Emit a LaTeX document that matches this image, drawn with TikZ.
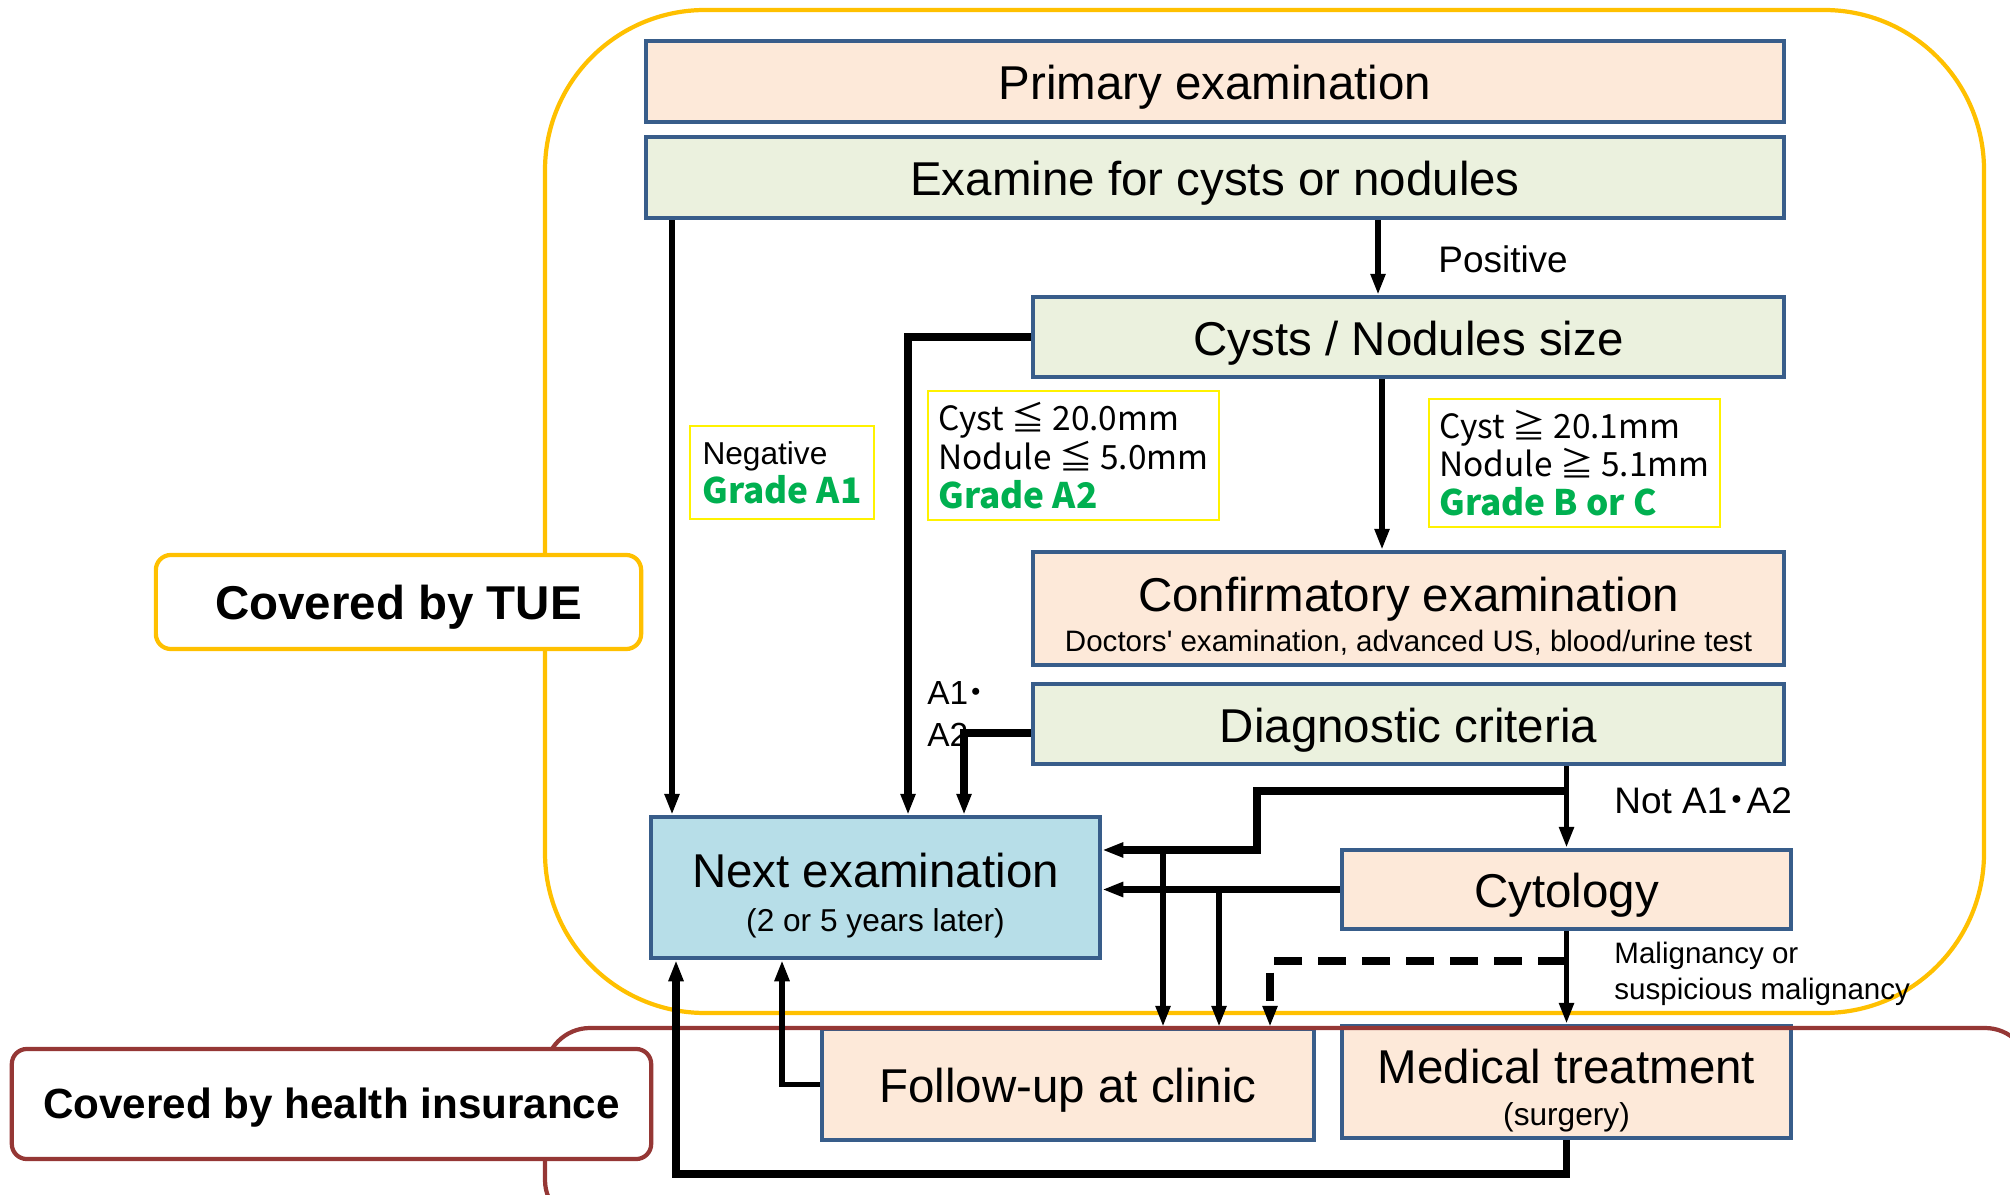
\documentclass[tikz,border=0pt]{standalone}
\usepackage{fontspec}
\setmainfont{Liberation Sans}
\newfontfamily\jpfont{Noto Sans CJK JP}
\usetikzlibrary{arrows.meta}

\definecolor{peach}{RGB}{253,233,217}
\definecolor{sage}{RGB}{235,241,222}
\definecolor{skyblue}{RGB}{183,222,232}
\definecolor{boxblue}{RGB}{56,93,138}
\definecolor{tueyellow}{RGB}{255,192,0}
\definecolor{insred}{RGB}{149,55,53}
\definecolor{gradegreen}{RGB}{0,176,80}

\newcommand{\ttlsize}{\fontsize{13.5}{16}\selectfont}
\newcommand{\subsize}{\fontsize{9}{11}\selectfont}
\newcommand{\notesize}{\fontsize{8.4}{10.2}\selectfont}
\newcommand{\lblsize}{\fontsize{10.5}{12.6}\selectfont}
\newcommand{\condsize}{\fontsize{9.5}{11}\selectfont}
\newcommand{\grade}[1]{{\fontsize{10}{11}\selectfont\color{gradegreen}\bfseries #1}}
\newcommand{\jpdot}{\kern-2.5pt{\jpfont ・}\kern-2.5pt}

\tikzset{
  stage/.style={draw=boxblue, line width=1.2pt, inner sep=0pt, align=center, font=\ttlsize,
    execute at begin node={\rule{0pt}{13.3pt}}},
  peachbox/.style={stage, fill=peach},
  sagebox/.style={stage, fill=sage},
  bluebox/.style={stage, fill=skyblue},
  condbox/.style={draw=yellow, line width=0.6pt, fill=white, align=left, inner sep=0pt, font=\condsize\jpfont},
  coverbox/.style={fill=white, rounded corners=0.15cm, line width=1.2pt, inner sep=0pt},
  conn/.style={line width=1.5pt, -{Triangle[length=6pt,width=4pt]}},
  heavy/.style={line width=2.1pt}
}

\begin{document}
\begin{tikzpicture}[x=0.01cm, y=-0.01cm]
        \clip (0,0) rectangle (2010,1195);

        \draw [tueyellow, line width=1.2pt, rounded corners=1.6cm] (545,10) rectangle (1984,1013);

        \node [peachbox, minimum width=11.38cm, minimum height=0.81cm] (prim) at (1215,81.5) {Primary examination};
        \node [sagebox, minimum width=11.38cm, minimum height=0.81cm] (exam) at (1215,177.5) {Examine for cysts or nodules};
        \node [sagebox, minimum width=7.51cm, minimum height=0.8cm] (size) at (1408.5,337) {Cysts / Nodules size};
        \node [peachbox, minimum width=7.51cm, minimum height=1.13cm] (conf) at (1408.5,608.5) {\rule{0pt}{14.1pt}Confirmatory examination\\[-4.4pt]{\notesize Doctors\textquotesingle{} examination, advanced US, blood/urine test}};
        \node [sagebox, minimum width=7.51cm, minimum height=0.8cm] (diag) at (1408.5,724) {Diagnostic criteria};
        \node [peachbox, minimum width=4.49cm, minimum height=0.79cm] (cyto) at (1566.5,889.5) {Cytology};
        \node [bluebox, minimum width=4.49cm, minimum height=1.41cm] (next) at (875.5,887.5) {\rule{0pt}{14.3pt}Next examination\\[-3.6pt]{\subsize (2 or 5 years later)}};
        \node [peachbox, minimum width=4.92cm, minimum height=1.11cm] (follow) at (1068,1084.5) {Follow-up at clinic};
        \node [peachbox, minimum width=4.49cm, minimum height=1.12cm] (treat) at (1566.5,1082) {\rule{0pt}{14.6pt}Medical treatment\\[-3.9pt]{\subsize (surgery)}};

        \node [condbox, minimum width=1.84cm, minimum height=0.93cm] (neg) at (782,472.5) {{\rmfamily\fontsize{9}{11}\selectfont Negative}\\\grade{Grade A1}};
        \node [condbox, minimum width=2.91cm, minimum height=1.29cm] (cnda) at (1073.5,455.5) {Cyst ≦ 20.0mm\\Nodule ≦ 5.0mm\\\grade{Grade A2}};
        \node [condbox, minimum width=2.91cm, minimum height=1.28cm] (cndb) at (1574.5,463) {Cyst ≧ 20.1mm\\Nodule ≧ 5.1mm\\\grade{Grade B or C}};

        \draw [insred, line width=1.2pt, rounded corners=0.45cm] (545,1028) rectangle (2030,1225);

        \coordinate (c1) at (672,0);
        \coordinate (cpos) at (1378,0);
        \coordinate (c3) at (908,0);
        \coordinate (c4) at (1382,0);
        \coordinate (c5) at (964,0);
        \coordinate (c6) at (1257,0);
        \coordinate (c7) at (1163,0);
        \coordinate (c8) at (1219,0);
        \coordinate (c9) at (1270,0);
        \coordinate (c11) at (782,0);
        \coordinate (br) at (1566,791);
        \coordinate (dsh) at (1566,961);
        \coordinate (ret) at (676,1174);
        \coordinate (in1) at ([yshift=0.375cm]next.east);

        \draw [conn] (exam.south -| c1) -- (next.north -| c1);
        \draw [conn] (exam.south -| cpos) -- (size.north -| cpos);
        \draw [conn, heavy] (size.west) -| (next.north -| c3);
        \draw [conn] (size.south -| c4) -- (conf.north -| c4);
        \draw [conn, heavy] ([yshift=-0.09cm]diag.west) -| (next.north -| c5);
        \draw [conn] (diag.south -| cyto.north) -- (cyto.north);
        \draw [conn, heavy] (br) -| (in1 -| c6) -- (in1);
        \draw [conn, heavy] (cyto.west) -- (cyto.west -| next.east);
        \draw [conn] (in1 -| c7) -- (follow.north -| c7);
        \draw [conn] (cyto.west -| c8) -- (follow.north -| c8);
        \draw [conn, heavy, dash pattern=on 8pt off 4.5pt] (dsh) -| (follow.north -| c9);
        \draw [conn] (cyto.south) -- (treat.north);
        \draw [conn, heavy] (treat.south) |- (ret) -- (ret |- next.south);
        \draw [conn] (follow.west) -| (next.south -| c11);

        \node [anchor=west, font=\lblsize] (pos) at (1426,259) {Positive};
        \node [anchor=west, font=\lblsize] (nota) at (1602,801) {Not A1\jpdot A2};
        \node [anchor=west, align=left, font=\notesize] (malig) at (1602,974) {Malignancy or\\suspicious malignancy};
        \node [anchor=west, align=left, font=\fontsize{9.5}{11.7}\selectfont] (aa) at (915,714) {A1\jpdot\\A2};

        \node [coverbox, draw=tueyellow, minimum width=4.85cm, minimum height=0.94cm, font=\ttlsize\bfseries] (tue) at (398.5,602) {\rule{0pt}{12.7pt}Covered by TUE};
        \node [coverbox, draw=insred, minimum width=6.39cm, minimum height=1.1cm, font=\fontsize{12}{14}\selectfont\bfseries] (ins) at (331.5,1104) {\rule{0pt}{11pt}Covered by health insurance};
\end{tikzpicture}
\end{document}
